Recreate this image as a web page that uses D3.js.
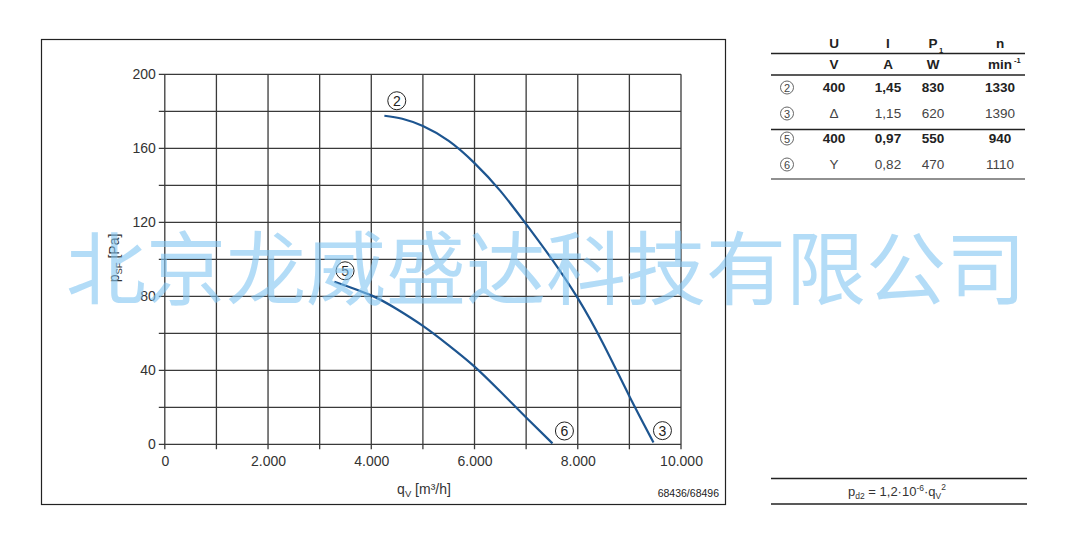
<!DOCTYPE html>
<html><head><meta charset="utf-8">
<script src="https://cdn.jsdelivr.net/npm/d3@7"></script>
<style>html,body{margin:0;padding:0;background:#fff;} svg{display:block;font-family:"Liberation Sans",Arial,sans-serif;}</style>
</head><body><svg id="c" width="1081" height="537"></svg>
<script>
// ---- data ----
const curve2_q = [4254, 4600, 5000, 5500, 6000, 6500, 7000, 7500, 8000, 8500, 9000, 9467];
const curve2_p = [177.6, 176, 172, 164, 152, 137, 119, 100, 79, 54, 26, 1];
const curve5_q = [3285, 4000, 4500, 5000, 5500, 6000, 6500, 7000, 7510];
const curve5_p = [87.9, 80.5, 73, 64, 53.5, 42, 28.5, 14.5, 0.5];
const curveLabels = ["2", "5", "6", "3"];
const labelQ = [4494, 3492, 7742, 9641];
const labelP = [185.7, 93.8, 7.2, 7.4];
const xTicks = [0, 2000, 4000, 6000, 8000, 10000];
const yTicks = [0, 40, 80, 120, 160, 200];
const tableHead = ["U", "I", "P", "n"];
const tableUnits = ["V", "A", "W", "min"];
const tableIds = ["2", "3", "5", "6"];
const colU = ["400", "Δ", "400", "Y"];
const colI = ["1,45", "1,15", "0,97", "0,82"];
const colP = ["830", "620", "550", "470"];
const colN = ["1330", "1390", "940", "1110"];
const rowBold = [true, false, true, false];

const svg = d3.select("#c");
const x = d3.scaleLinear().domain([0, 10000]).range([164.8, 681]);
const y = d3.scaleLinear().domain([0, 200]).range([444.3, 74.3]);
const loc = d3.formatLocale({decimal: ",", thousands: ".", grouping: [3], currency: ["", ""]});
const fmt = loc.format(",");
const gridCol = "#3a3a3a";

// outer box
svg.append("rect").attr("x", 41.5).attr("y", 39.5).attr("width", 684).attr("height", 465)
  .attr("fill", "none").attr("stroke", "#222").attr("stroke-width", 1.2);

// grid
const g = svg.append("g");
d3.range(0, 10001, 1000).forEach(v => {
  g.append("line").attr("x1", x(v)).attr("x2", x(v)).attr("y1", y(200)).attr("y2", y(0) + 5)
    .attr("stroke", gridCol).attr("stroke-width", 1.3);
});
d3.range(0, 201, 20).forEach(v => {
  g.append("line").attr("x1", x(0) - 6).attr("x2", x(10000)).attr("y1", y(v)).attr("y2", y(v))
    .attr("stroke", gridCol).attr("stroke-width", 1.3);
});

// axes labels
const xAxis = d3.axisBottom(x).tickValues(xTicks).tickFormat(fmt).tickSize(0).tickPadding(12);
const xa = svg.append("g").attr("transform", `translate(0,${y(0)})`).call(xAxis);
xa.select(".domain").remove();
xa.selectAll("text").attr("font-size", 14).attr("fill", "#333").attr("font-family", "Liberation Sans, Arial, sans-serif");
const yAxis = d3.axisLeft(y).tickValues(yTicks).tickSize(0).tickPadding(9);
const ya = svg.append("g").attr("transform", `translate(${x(0)},0)`).call(yAxis);
ya.select(".domain").remove();
ya.selectAll("text").attr("font-size", 14).attr("fill", "#333").attr("font-family", "Liberation Sans, Arial, sans-serif");

// axis titles
const xt = svg.append("text").attr("x", 424).attr("y", 494).attr("text-anchor", "middle")
  .attr("font-size", 14).attr("fill", "#333");
xt.append("tspan").text("q");
xt.append("tspan").text("V").attr("font-size", 9.5).attr("dy", 3);
xt.append("tspan").text(" [m³/h]").attr("dy", -3);
const yt = svg.append("text").attr("transform", "translate(119,258) rotate(-90)").attr("text-anchor", "middle")
  .attr("font-size", 14).attr("fill", "#333");
yt.append("tspan").text("p");
yt.append("tspan").text("SF").attr("font-size", 9.5).attr("dy", 3);
yt.append("tspan").text(" [Pa]").attr("dy", -3);

svg.append("text").attr("x", 719).attr("y", 497).attr("text-anchor", "end").attr("font-size", 10.5)
  .attr("fill", "#222").text("68436/68496");

// curves
const line = d3.line().x(d => x(d[0])).y(d => y(d[1])).curve(d3.curveNatural);
const blue = "#1d5590";
svg.append("path").attr("d", line(d3.zip(curve2_q, curve2_p))).attr("fill", "none")
  .attr("stroke", blue).attr("stroke-width", 2.2);
svg.append("path").attr("d", line(d3.zip(curve5_q, curve5_p))).attr("fill", "none")
  .attr("stroke", blue).attr("stroke-width", 2.2);

// curve labels
curveLabels.forEach((t, i) => {
  const cx = x(labelQ[i]), cy = y(labelP[i]);
  svg.append("circle").attr("cx", cx).attr("cy", cy).attr("r", 9).attr("fill", "#fff")
    .attr("stroke", "#222").attr("stroke-width", 1);
  svg.append("text").attr("x", cx).attr("y", cy + 5).attr("text-anchor", "middle")
    .attr("font-size", 14).attr("fill", "#222").text(t);
});

// table
const colX = [834, 888, 933, 1000];
const tl = [771, 1025];
svg.append("g").selectAll("text").data(tableHead).join("text")
  .attr("x", (d, i) => colX[i]).attr("y", 48).attr("text-anchor", "middle")
  .attr("font-size", 13.5).attr("font-weight", "bold").attr("fill", "#222").text(d => d);
svg.append("text").attr("x", colX[2] + 6).attr("y", 53).attr("font-size", 7.5).attr("font-weight", "bold").attr("fill", "#222").text("1");
svg.append("g").selectAll("text").data(tableUnits).join("text")
  .attr("x", (d, i) => colX[i]).attr("y", 69).attr("text-anchor", "middle")
  .attr("font-size", 13.5).attr("font-weight", "bold").attr("fill", "#222").text(d => d);
svg.append("text").attr("x", colX[3] + 14).attr("y", 63).attr("font-size", 7.5).attr("font-weight", "bold").attr("fill", "#222").text("-1");
[53.5, 75, 129.5, 179].forEach((ly, i) => {
  svg.append("line").attr("x1", tl[0]).attr("x2", tl[1]).attr("y1", ly).attr("y2", ly)
    .attr("stroke", "#222").attr("stroke-width", i === 3 ? 1.2 : 1.6);
});
const rowY = [92, 118, 143, 169];
tableIds.forEach((id, i) => {
  const fy = rowY[i];
  svg.append("circle").attr("cx", 787).attr("cy", fy - 4.5).attr("r", 6.5).attr("fill", "none")
    .attr("stroke", "#555").attr("stroke-width", 0.9);
  svg.append("text").attr("x", 787).attr("y", fy - 0.5).attr("text-anchor", "middle").attr("font-size", 11)
    .attr("fill", "#444").text(id);
  [colU[i], colI[i], colP[i], colN[i]].forEach((v, j) => {
    svg.append("text").attr("x", colX[j]).attr("y", fy).attr("text-anchor", "middle")
      .attr("font-size", 13.5).attr("font-weight", rowBold[i] ? "bold" : "normal")
      .attr("fill", rowBold[i] ? "#222" : "#444").text(v);
  });
});

// footer formula
[478.5, 504].forEach(ly => svg.append("line").attr("x1", tl[0]).attr("x2", 1027).attr("y1", ly).attr("y2", ly)
  .attr("stroke", "#222").attr("stroke-width", 1.3));
const ft = svg.append("text").attr("x", 897).attr("y", 496).attr("text-anchor", "middle").attr("font-size", 13).attr("fill", "#333");
ft.append("tspan").text("p");
ft.append("tspan").text("d2").attr("font-size", 8.5).attr("dy", 3);
ft.append("tspan").text(" = 1,2·10").attr("dy", -3);
ft.append("tspan").text("-6").attr("font-size", 8.5).attr("dy", -5);
ft.append("tspan").text("·q").attr("dy", 5);
ft.append("tspan").text("V").attr("font-size", 8.5).attr("dy", 3);
ft.append("tspan").text("2").attr("font-size", 8.5).attr("dy", -9);

// watermark
svg.append("text").attr("x", 546).attr("y", 263).attr("text-anchor", "middle").attr("dominant-baseline", "central")
  .attr("font-family", "Noto Sans CJK SC").attr("font-size", 80).attr("fill", "rgb(128,197,242)").attr("fill-opacity", 0.6)
  .text("北京龙威盛达科技有限公司");
</script></body></html>
